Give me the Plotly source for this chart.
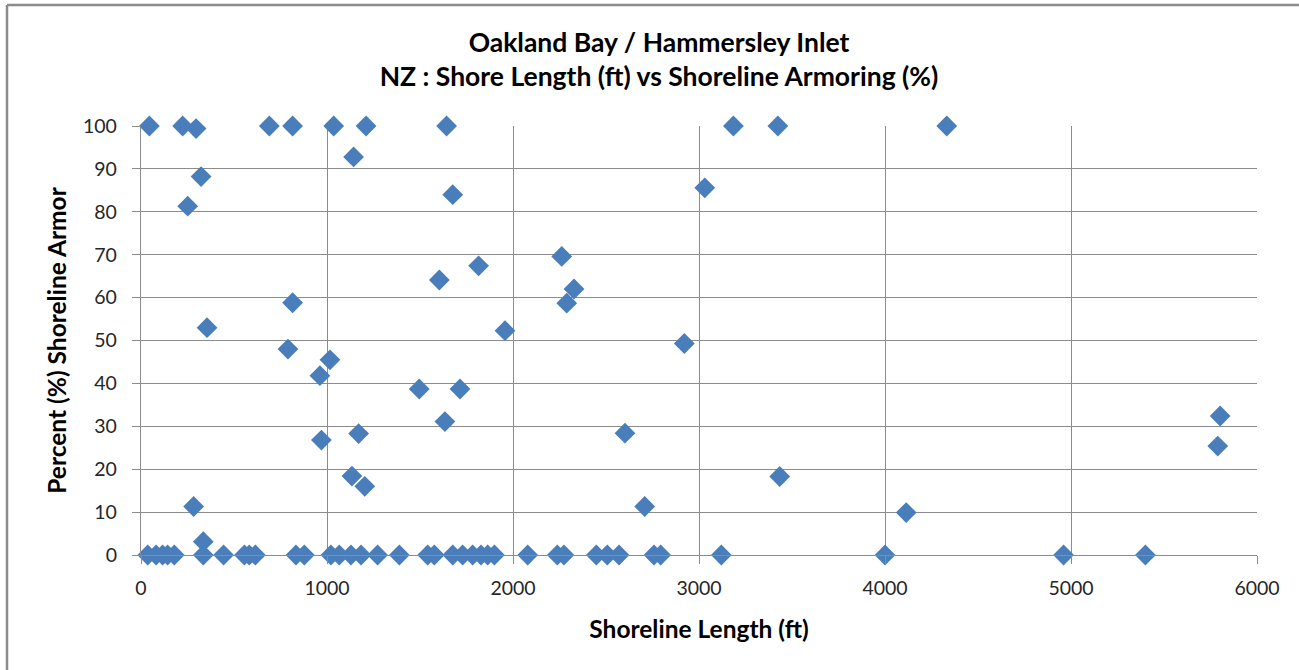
import plotly.graph_objects as go

# Shoreline length (ft) and armoring (%)
length_nonzero = [45, 224, 296, 690, 815, 1036, 1210, 1643, 3185, 3424, 4332,
                  1143, 323, 251, 1676, 3031,
                  1604, 1815, 2262, 2328, 2289, 815,
                  355, 1957, 2921, 790, 1016, 962,
                  1496, 1715, 1634, 5802, 970, 1170, 2602, 5789,
                  1134, 1203, 3434, 283, 2708, 4114, 335]
armor_nonzero = [100, 100, 99.4, 100, 100, 100, 100, 100, 100, 100, 100,
                 92.8, 88.2, 81.3, 84.0, 85.6,
                 64.1, 67.4, 69.6, 62.0, 58.7, 58.8,
                 53.0, 52.3, 49.3, 48.0, 45.5, 41.8,
                 38.7, 38.7, 31.1, 32.4, 26.8, 28.3, 28.4, 25.4,
                 18.4, 16.0, 18.3, 11.3, 11.3, 9.9, 3.1]
length_zero = [36, 81, 116, 143, 179, 335, 444, 556, 582, 615, 833, 878,
               1021, 1066, 1129, 1183, 1272, 1389, 1541, 1577, 1676, 1729,
               1783, 1828, 1864, 1900, 2079, 2238, 2274, 2448, 2507, 2570,
               2758, 2794, 3120, 4000, 4960, 5400]
armor_zero = [0] * len(length_zero)

shore_length = length_nonzero + length_zero
armoring = armor_nonzero + armor_zero

x_ticks = [0, 1000, 2000, 3000, 4000, 5000, 6000]
y_ticks = [0, 10, 20, 30, 40, 50, 60, 70, 80, 90, 100]

title_line1 = "Oakland Bay / Hammersley Inlet"
title_line2 = "NZ : Shore Length (ft) vs Shoreline Armoring (%)"
x_title = "Shoreline Length (ft)"
y_title = "Percent (%) Shoreline Armor"

FONT = "Lato"
GRID = "#8c8c8c"
TXT = "#262626"

fig = go.Figure()
fig.add_trace(go.Scatter(
    x=shore_length, y=armoring, mode="markers",
    marker=dict(symbol="diamond", size=16, color="#4A7EBB",
                line=dict(width=0)),
    cliponaxis=False, showlegend=False, hoverinfo="x+y",
))

fig.update_layout(
    width=1299, height=670,
    margin=dict(l=141, r=42, t=126, b=115),
    paper_bgcolor="white", plot_bgcolor="white",
    font=dict(family=FONT, color=TXT),
    title=dict(text="<b>" + title_line1 + "</b><br><b>" + title_line2 + "</b>",
               x=659 / 1299, xref="container", xanchor="center",
               y=1 - 52 / 670, yref="container", yanchor="middle",
               font=dict(family=FONT, size=26.5, color="#000000")),
    showlegend=False,
)

fig.update_xaxes(
    range=[0, 6000], tickvals=x_ticks, ticktext=[str(v) for v in x_ticks],
    showgrid=True, gridcolor=GRID, gridwidth=1.3,
    showline=True, linecolor=GRID, linewidth=1.3,
    ticks="outside", ticklen=8, tickcolor=GRID, tickwidth=1.3,
    tickfont=dict(family=FONT, size=19.5, color=TXT),
    ticklabelstandoff=7,
    zeroline=False,
    title=dict(text="<b>" + x_title + "</b>", font=dict(family=FONT, size=24.5, color="#000000"),
               standoff=23),
)
fig.update_yaxes(
    range=[0, 100], tickvals=y_ticks, ticktext=[str(v) for v in y_ticks],
    showgrid=True, gridcolor=GRID, gridwidth=1.3,
    showline=True, linecolor=GRID, linewidth=1.3,
    ticks="outside", ticklen=8, tickcolor=GRID, tickwidth=1.3,
    tickfont=dict(family=FONT, size=19.5, color=TXT),
    ticklabelstandoff=11,
    zeroline=False,
    title=dict(text="<b>" + y_title + "</b>", font=dict(family=FONT, size=24.5, color="#000000"),
               standoff=9),
)

# outer chart border (top and left edges visible in the reference)
pl, pr, pt, pb = 141, 1257, 126, 555
def px_to_paper_x(px):
    return (px - pl) / (pr - pl)
def px_to_paper_y(py):
    return (pb - py) / (pb - pt)

fig.add_shape(type="line", xref="paper", yref="paper",
              x0=px_to_paper_x(7), x1=px_to_paper_x(1299),
              y0=px_to_paper_y(5), y1=px_to_paper_y(5),
              line=dict(color="#8c8c8c", width=2.5))
fig.add_shape(type="line", xref="paper", yref="paper",
              x0=px_to_paper_x(7), x1=px_to_paper_x(7),
              y0=px_to_paper_y(5), y1=px_to_paper_y(670),
              line=dict(color="#8c8c8c", width=2.5))

fig.write_html("out.html", config={"displayModeBar": False},
               post_script="document.body.style.margin='0';")
